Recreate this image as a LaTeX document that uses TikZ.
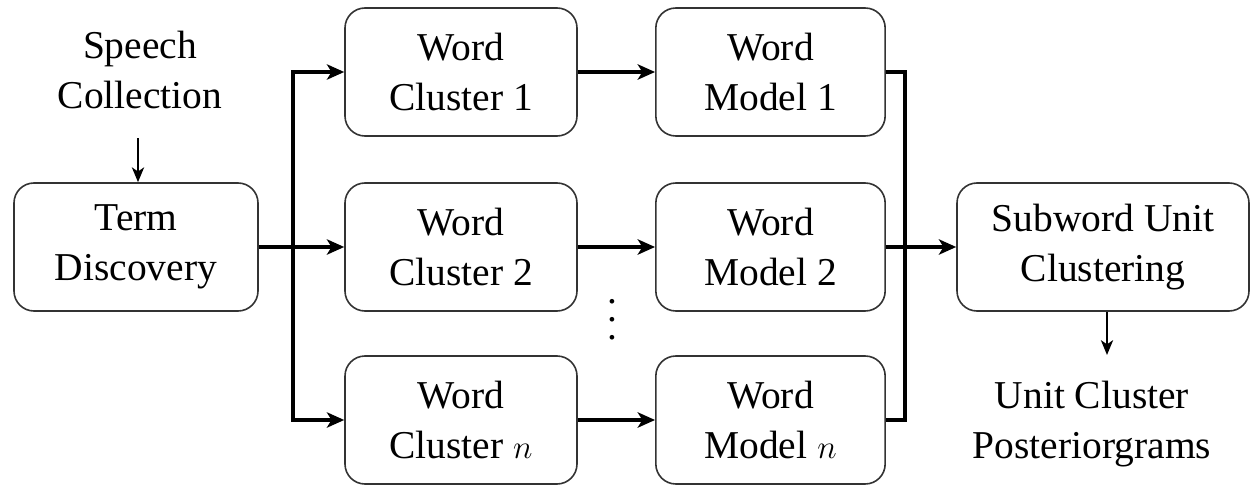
\documentclass[tikz,border=0pt]{standalone}
\usepackage{fontspec}
\setmainfont{Liberation Serif}
\usetikzlibrary{arrows.meta}

\tikzset{
  stage/.style={draw=black!80, line width=1.2pt, rounded corners=15pt,
    minimum width=174pt, minimum height=96pt, inner sep=0pt, align=center},
  label/.style={inner sep=0pt, align=center},
  bar/.style={line width=3.6pt},
  flow/.style={bar, -{Stealth[length=13pt, width=11.5pt, inset=3.5pt]}},
  feed/.style={line width=2.2pt, -{Stealth[length=11pt, width=9pt, inset=3pt]}},
}

\begin{document}
\begin{tikzpicture}[x=0.75pt,y=0.75pt,yscale=-1,xscale=1,
  every node/.style={font=\fontsize{29.6}{37.5}\selectfont}]
\useasboundingbox (0,0) rectangle (1250,485);
%input and term discovery
\node[label] (speech) at (140,70) {Speech\\Collection};
\node[stage, minimum width=183pt] (term) at (136,247) {Term\\Discovery};
%word clusters
\node[stage] (wc1) at (461,72) {Word\\Cluster 1};
\node[stage] (wc2) at (461,247) {Word\\Cluster 2};
\node[stage] (wcn) at (461,420) {Word\\Cluster $n$};
%word models
\node[stage, minimum width=172pt] (wm1) at (770.5,72) {Word\\Model 1};
\node[stage, minimum width=172pt] (wm2) at (770.5,247) {Word\\Model 2};
\node[stage, minimum width=172pt] (wmn) at (770.5,420) {Word\\Model $n$};
\node[label, font=\fontsize{29.6}{13.5}\selectfont] (dots) at (612,320) {.\\.\\.};
%subword clustering and output
\node[stage, minimum width=219pt] (sub) at (1103,247) {Subword Unit\\Clustering};
\node[label] (post) at (1092,424) {Unit Cluster\\Posteriorgrams};
%connectors
\coordinate (split) at (293,247);
\coordinate (merge) at (905,247);
\coordinate (s0) at (138,138);
\coordinate (p0) at (1107,355);
\draw[feed] (s0) -- (term.north -| s0);
\draw[bar] (term.east) -- (split);
\draw[flow] (split) -- (wc2.west);
\draw[flow] (split) |- (wc1.west);
\draw[flow] (split) |- (wcn.west);
\draw[flow] (wc1) -- (wm1);
\draw[flow] (wc2) -- (wm2);
\draw[flow] (wcn) -- (wmn);
\draw[bar] (wm1.east) -| (merge) |- (wmn.east);
\draw[flow] (wm2.east) -- (sub.west);
\draw[feed] (sub.south -| p0) -- (p0);
\end{tikzpicture}
\end{document}
